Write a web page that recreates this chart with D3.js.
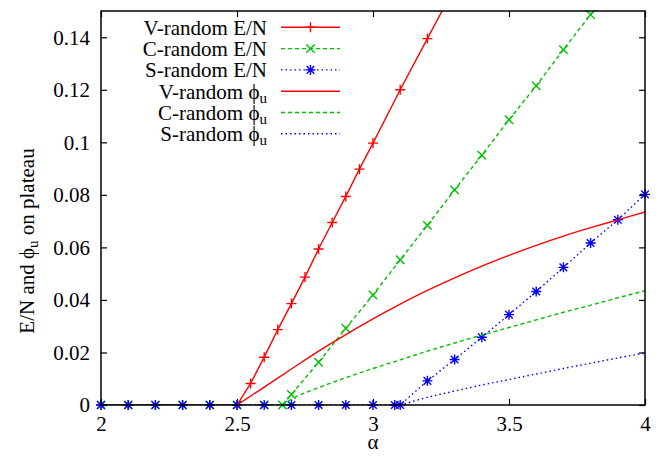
<!DOCTYPE html>
<html>
<head>
<meta charset="utf-8">
<script src="https://cdnjs.cloudflare.com/ajax/libs/d3/7.8.5/d3.min.js"></script>
<style>
  body { margin: 0; background: #fff; }
</style>
</head>
<body>
<script>

// E/N curves (with points)
var alphaV = [2.0, 2.1, 2.2, 2.3, 2.4, 2.5, 2.55, 2.6, 2.65, 2.7, 2.75, 2.8, 2.85, 2.9, 2.95, 3.0, 3.1, 3.2, 3.3];
var enV = [0, 0, 0, 0, 0, 0, 0.0082, 0.0182, 0.0287, 0.0386, 0.0487, 0.0594, 0.0695, 0.0794, 0.0898, 0.0997, 0.12, 0.1395, 0.159];

var alphaC = [2.0, 2.1, 2.2, 2.3, 2.4, 2.5, 2.6, 2.667, 2.7, 2.8, 2.9, 3.0, 3.1, 3.2, 3.3, 3.4, 3.5, 3.6, 3.7, 3.8, 3.9];
var enC = [0, 0, 0, 0, 0, 0, 0, 0, 0.004, 0.0163, 0.0292, 0.0419, 0.0553, 0.0684, 0.0819, 0.0951, 0.1086, 0.1215, 0.1353, 0.1486, 0.162];

var alphaS = [2.0, 2.1, 2.2, 2.3, 2.4, 2.5, 2.6, 2.7, 2.8, 2.9, 3.0, 3.08, 3.1, 3.2, 3.3, 3.4, 3.5, 3.6, 3.7, 3.8, 3.9, 4.0];
var enS = [0, 0, 0, 0, 0, 0, 0, 0, 0, 0, 0, 0, 0, 0.0092, 0.0173, 0.0258, 0.0344, 0.0432, 0.0524, 0.0617, 0.0705, 0.0802];

// phi_u curves (lines only)
var phiAlphaV = [2.5, 2.6, 2.7, 2.8, 2.9, 3.0, 3.1, 3.2, 3.3, 3.4, 3.5, 3.6, 3.7, 3.8, 3.9, 4.0];
var phiV = [0, 0.0068, 0.0137, 0.0205, 0.0268, 0.0328, 0.0384, 0.0436, 0.0484, 0.0529, 0.0570, 0.0608, 0.0643, 0.0675, 0.0705, 0.0735];

var phiAlphaC = [2.667, 2.7, 2.8, 2.9, 3.0, 3.1, 3.2, 3.3, 3.4, 3.5, 3.6, 3.7, 3.8, 3.9, 4.0];
var phiC = [0, 0.0022, 0.0066, 0.0104, 0.0139, 0.0172, 0.0205, 0.0236, 0.0266, 0.0295, 0.0324, 0.0353, 0.0380, 0.0408, 0.0435];

var phiAlphaS = [3.1, 3.2, 3.3, 3.4, 3.5, 3.6, 3.7, 3.8, 3.9, 4.0];
var phiS = [0, 0.0029, 0.0053, 0.0076, 0.0097, 0.0118, 0.0139, 0.0159, 0.0179, 0.0198];

var xTicks = [2, 2.5, 3, 3.5, 4];
var yTicks = [0, 0.02, 0.04, 0.06, 0.08, 0.1, 0.12, 0.14];
var legendNames = ["V-random E/N", "C-random E/N", "S-random E/N", "V-random ", "C-random ", "S-random "];

var W = 671, H = 462,
    margin = {top: 11, right: 26, bottom: 57, left: 101},
    width = W - margin.left - margin.right,
    height = H - margin.top - margin.bottom;

var svg = d3.select("body").append("svg")
    .attr("width", W)
    .attr("height", H);

var x = d3.scaleLinear().domain([2, 4]).range([0, width]);
var y = d3.scaleLinear().domain([0, 0.15]).range([height, 0]);

var g = svg.append("g").attr("transform", "translate(" + margin.left + "," + margin.top + ")");

g.append("clipPath").attr("id", "clip")
  .append("rect").attr("width", width).attr("height", height);

// axes, ticks pointing inward on all four sides
function styleAxis(sel) {
  sel.attr("font-family", null).attr("font-size", null);
  sel.select(".domain").remove();
  sel.selectAll(".tick line").attr("stroke", "#000").attr("stroke-width", 1.2);
  sel.selectAll(".tick text").attr("fill", "#000");
}

g.append("g").attr("transform", "translate(0," + height + ")")
  .call(d3.axisBottom(x).tickValues(xTicks).tickSizeInner(-6).tickSizeOuter(0).tickPadding(11).tickFormat(function(d) { return String(d); }))
  .call(styleAxis);
g.append("g")
  .call(d3.axisTop(x).tickValues(xTicks).tickSizeInner(-6).tickSizeOuter(0).tickFormat(""))
  .call(styleAxis);
g.append("g")
  .call(d3.axisLeft(y).tickValues(yTicks).tickSizeInner(-6).tickSizeOuter(0).tickPadding(11).tickFormat(function(d) { return String(d); }))
  .call(styleAxis);
g.append("g").attr("transform", "translate(" + width + ",0)")
  .call(d3.axisRight(y).tickValues(yTicks).tickSizeInner(-6).tickSizeOuter(0).tickFormat(""))
  .call(styleAxis);

// series
var series = [
  {a: alphaV, v: enV, color: "#ff0000", dash: null, marker: "plus"},
  {a: alphaC, v: enC, color: "#00c000", dash: "4,3", marker: "cross"},
  {a: alphaS, v: enS, color: "#0000ff", dash: "1.5,3", marker: "star"},
  {a: phiAlphaV, v: phiV, color: "#ff0000", dash: null, marker: null},
  {a: phiAlphaC, v: phiC, color: "#00c000", dash: "4,3", marker: null},
  {a: phiAlphaS, v: phiS, color: "#0000ff", dash: "1.5,3", marker: null}
];

var markerPath = {
  plus: "M-5,0H5M0,-5V5",
  cross: "M-4.2,-4.2L4.2,4.2M-4.2,4.2L4.2,-4.2",
  star: "M-5,0H5M0,-5V5M-3.8,-3.8L3.8,3.8M-3.8,3.8L3.8,-3.8"
};

series.forEach(function(s) {
  var pts = s.a.map(function(d, i) { return [d, s.v[i]]; });
  var line = d3.line()
    .x(function(d) { return x(d[0]); })
    .y(function(d) { return y(d[1]); });
  if (!s.marker) line.curve(d3.curveMonotoneX);

  g.append("path")
    .datum(pts)
    .attr("clip-path", "url(#clip)")
    .attr("fill", "none")
    .attr("stroke", s.color)
    .attr("stroke-width", 1.4)
    .attr("stroke-dasharray", s.dash)
    .attr("d", line);

  if (s.marker) {
    g.selectAll(null)
      .data(pts.filter(function(d) { return d[1] <= 0.15; }))
      .enter().append("path")
      .attr("transform", function(d) { return "translate(" + x(d[0]) + "," + y(d[1]) + ")"; })
      .attr("d", markerPath[s.marker])
      .attr("fill", "none")
      .attr("stroke", s.color)
      .attr("stroke-width", 1.4);
  }
});

// frame
g.append("rect")
  .attr("width", width).attr("height", height)
  .attr("fill", "none").attr("stroke", "#000").attr("stroke-width", 1.5);

// legend
var leg = svg.append("g");
series.forEach(function(s, i) {
  var ly = 27.3 + i * 21.3;
  var t = leg.append("text")
    .attr("x", 267).attr("y", ly).attr("dy", "0.36em")
    .attr("text-anchor", "end")
    .text(legendNames[i]);
  if (i > 2) {
    t.append("tspan").text("\u03d5");
    t.append("tspan").attr("dy", 4).attr("class", "sub").text("u");
  }
  leg.append("line")
    .attr("x1", 281).attr("x2", 340).attr("y1", ly).attr("y2", ly)
    .attr("stroke", s.color).attr("stroke-width", 1.4)
    .attr("stroke-dasharray", s.dash);
  if (s.marker) {
    leg.append("path")
      .attr("transform", "translate(310.5," + ly + ")")
      .attr("d", markerPath[s.marker])
      .attr("fill", "none").attr("stroke", s.color).attr("stroke-width", 1.4);
  }
});

// axis titles
svg.append("text")
  .attr("x", margin.left + x(3)).attr("y", 449)
  .attr("text-anchor", "middle")
  .text("\u03b1");

var yl = svg.append("text")
  .attr("transform", "translate(34,241) rotate(-90)")
  .attr("text-anchor", "middle");
yl.append("tspan").text("E/N and \u03d5");
yl.append("tspan").attr("dy", 4).attr("class", "sub").text("u");
yl.append("tspan").attr("dy", -4).text(" on plateau");

// serif font set on every text element itself
svg.selectAll("text")
  .attr("font-family", "'Liberation Serif'")
  .attr("font-size", 21);
svg.selectAll("tspan.sub")
  .attr("font-family", "'Liberation Serif'")
  .attr("font-size", 15);

</script>
</body>
</html>
